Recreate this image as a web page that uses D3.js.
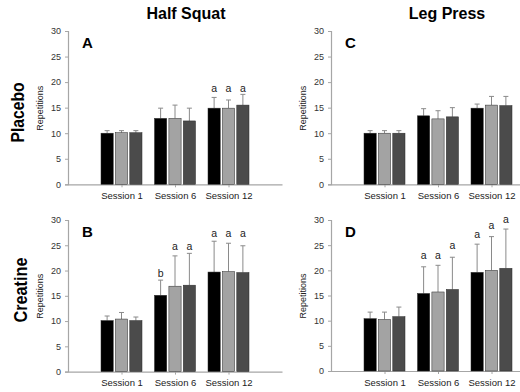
<!DOCTYPE html>
<html><head><meta charset="utf-8">
<script src="https://cdn.jsdelivr.net/npm/d3@7"></script>
<style>
html,body{margin:0;padding:0;background:#fff;}
svg{display:block;font-family:"Liberation Sans",Arial,sans-serif;}
</style></head>
<body>
<svg id="chart" width="520" height="392"></svg>
<script>
// ---- data ----
const sessions = ["Session 1", "Session 6", "Session 12"];
const groups = ["g1", "g2", "g3"];
const yTicks = [0, 5, 10, 15, 20, 25, 30];
const exercises = ["Half Squat", "Leg Press"];
const conditions = ["Placebo", "Creatine"];
const panelLetters = ["A", "C", "B", "D"];

// means [session][group]
const meansA = [[10.0, 10.1, 10.1], [12.9, 12.9, 12.4], [14.9, 14.9, 15.5]];
const sdA    = [[0.5, 0.4, 0.4], [2.0, 2.6, 2.5], [2.1, 1.6, 2.1]];
const meansC = [[10.0, 10.0, 10.0], [13.4, 12.8, 13.2], [14.9, 15.5, 15.4]];
const sdC    = [[0.5, 0.5, 0.5], [1.4, 1.6, 1.8], [0.8, 1.7, 1.8]];
const meansB = [[10.1, 10.4, 10.1], [15.1, 16.9, 17.1], [19.7, 19.8, 19.6]];
const sdB    = [[0.9, 1.3, 0.7], [3.0, 6.0, 6.3], [6.1, 5.6, 5.3]];
const meansD = [[10.4, 10.25, 10.8], [15.4, 15.7, 16.2], [19.6, 20.0, 20.4]];
const sdD    = [[1.3, 1.45, 1.9], [5.3, 5.3, 6.4], [5.6, 6.7, 7.8]];

// significance letters [session][group] and their baseline value
const sigA = [["", "", ""], ["", "", ""], ["a", "a", "a"]];
const sigPosA = [[0, 0, 0], [0, 0, 0], [18.0, 18.0, 18.0]];
const sigC = [["", "", ""], ["", "", ""], ["", "", ""]];
const sigPosC = [[0, 0, 0], [0, 0, 0], [0, 0, 0]];
const sigB = [["", "", ""], ["b", "a", "a"], ["a", "a", "a"]];
const sigPosB = [[0, 0, 0], [18.8, 24.1, 24.1], [26.7, 26.7, 26.7]];
const sigD = [["", "", ""], ["a", "a", "a"], ["a", "a", "a"]];
const sigPosD = [[0, 0, 0], [22.2, 22.2, 24.2], [26.5, 28.2, 29.5]];

const barColors = ["#000000", "#a3a3a3", "#4b4b4b"];

// ---- layout ----
const svg = d3.select("#chart");
const panels = [
  {letter: "A", means: meansA, sd: sdA, sig: sigA, sigPos: sigPosA, x0: 68, yTop: 31, yBot: 184.3},
  {letter: "C", means: meansC, sd: sdC, sig: sigC, sigPos: sigPosC, x0: 331, yTop: 31, yBot: 184.3},
  {letter: "B", means: meansB, sd: sdB, sig: sigB, sigPos: sigPosB, x0: 68, yTop: 220, yBot: 371.6},
  {letter: "D", means: meansD, sd: sdD, sig: sigD, sigPos: sigPosD, x0: 331, yTop: 220, yBot: 371}
];
const axisColor = "#a6a6a6";

panels.forEach((p, pi) => {
  const g = svg.append("g");
  const x = d3.scaleLinear().domain([0, 4]).range([p.x0, p.x0 + 214]);
  const y = d3.scaleLinear().domain([0, 30]).range([p.yBot, p.yTop]);
  const sub = d3.scaleBand().domain(groups).range([-20.5, 20.5]).paddingInner(0.15);

  // y axis
  const ya = g.append("g").attr("transform", `translate(${p.x0},0)`)
    .call(d3.axisLeft(y).tickValues(yTicks).tickSize(3).tickPadding(4));
  ya.select(".domain").attr("stroke", axisColor).attr("stroke-width", 1.2);
  ya.selectAll(".tick line").attr("stroke", axisColor);
  ya.selectAll(".tick text").attr("fill", "#333").style("font-size", "9px")
    .style("font-family", "Liberation Sans, Arial, sans-serif");

  // x axis
  const xa = g.append("g").attr("transform", `translate(0,${p.yBot})`)
    .call(d3.axisBottom(x).tickValues([1, 2, 3]).tickSize(3).tickSizeOuter(0)
      .tickFormat(d => sessions[d - 1]).tickPadding(5));
  xa.select(".domain").attr("stroke", axisColor).attr("stroke-width", 1.2);
  xa.selectAll(".tick line").attr("stroke", axisColor);
  xa.selectAll(".tick text").attr("fill", "#222").style("font-size", "9.5px")
    .style("font-family", "Liberation Sans, Arial, sans-serif");

  // bars
  sessions.forEach((s, si) => {
    groups.forEach((gr, gi) => {
      const cx = x(si + 1) + sub(gr);
      const v = p.means[si][gi];
      const top = v + p.sd[si][gi];
      const mid = cx + sub.bandwidth() / 2;
      // error bar
      g.append("line").attr("x1", mid).attr("x2", mid)
        .attr("y1", y(v)).attr("y2", y(top)).attr("stroke", "#8a8a8a").attr("stroke-width", 1);
      g.append("line").attr("x1", mid - 2.5).attr("x2", mid + 2.5)
        .attr("y1", y(top)).attr("y2", y(top)).attr("stroke", "#8a8a8a").attr("stroke-width", 1);
      g.append("rect").attr("x", cx).attr("width", sub.bandwidth())
        .attr("y", y(v)).attr("height", y(0) - y(v))
        .attr("fill", barColors[gi]).attr("stroke", "#2a2a2a").attr("stroke-width", 0.5);
      const lab = p.sig[si][gi];
      if (lab) {
        g.append("text").attr("x", mid).attr("y", y(p.sigPos[si][gi]))
          .attr("text-anchor", "middle").style("font-size", "10.5px").attr("fill", "#222")
          .text(lab);
      }
    });
  });

  // panel letter
  g.append("text").attr("x", p.x0 + 14).attr("y", p.yTop + 16.5)
    .style("font-size", "15px").style("font-weight", "bold").text(p.letter);

  // y label
  const ymid = (p.yTop + p.yBot) / 2 + 0.5;
  g.append("text").attr("transform", `translate(${p.x0 - 25},${ymid}) rotate(-90)`)
    .attr("text-anchor", "middle").style("font-size", "9px").attr("fill", "#222")
    .text("Repetitions");
});

// column titles
svg.append("text").attr("x", 186).attr("y", 19).attr("text-anchor", "middle")
  .style("font-size", "16px").style("font-weight", "bold").text(exercises[0]);
svg.append("text").attr("x", 447).attr("y", 19).attr("text-anchor", "middle")
  .style("font-size", "16px").style("font-weight", "bold").text(exercises[1]);

// row titles
svg.append("text").attr("transform", "translate(23.5,112.5) rotate(-90)")
  .attr("text-anchor", "middle").style("font-size", "18.5px").style("font-weight", "bold")
  .attr("textLength", 60).attr("lengthAdjust", "spacingAndGlyphs").text(conditions[0]);
svg.append("text").attr("transform", "translate(26.5,290) rotate(-90)")
  .attr("text-anchor", "middle").style("font-size", "18.5px").style("font-weight", "bold")
  .attr("textLength", 65).attr("lengthAdjust", "spacingAndGlyphs").text(conditions[1]);
</script>
</body></html>
